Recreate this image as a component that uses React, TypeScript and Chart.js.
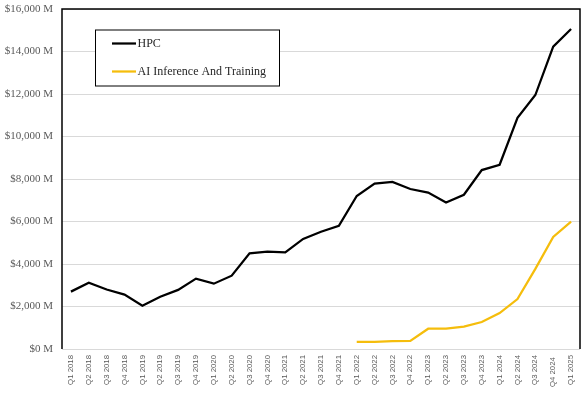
import React, { useEffect, useRef } from "react";
import { Chart, registerables } from "chart.js";

Chart.register(...registerables);

const categories = [
  "Q1 2018", "Q2 2018", "Q3 2018", "Q4 2018",
  "Q1 2019", "Q2 2019", "Q3 2019", "Q4 2019",
  "Q1 2020", "Q2 2020", "Q3 2020", "Q4 2020",
  "Q1 2021", "Q2 2021", "Q3 2021", "Q4 2021",
  "Q1 2022", "Q2 2022", "Q3 2022", "Q4 2022",
  "Q1 2023", "Q2 2023", "Q3 2023", "Q4 2023",
  "Q1 2024", "Q2 2024", "Q3 2024", "Q4 2024 ",
  "Q1 2025",
];

const hpcValues = [
  2700, 3120, 2800, 2560,
  2040, 2460, 2780, 3310,
  3075, 3450, 4500, 4580,
  4550, 5180, 5520, 5800,
  7200, 7780, 7860, 7530,
  7360, 6890, 7260, 8420,
  8670, 10880, 11950, 14230,
  15060,
];

const aiValues: (number | null)[] = [
  null, null, null, null,
  null, null, null, null,
  null, null, null, null,
  null, null, null, null,
  330, 335, 375, 378,
  955, 958, 1050, 1270,
  1690, 2350, 3770, 5270,
  5990,
];

const yTicks = [0, 2000, 4000, 6000, 8000, 10000, 12000, 14000, 16000];

const SERIF = "'Liberation Serif', 'DejaVu Serif', serif";
const SANS = "'Liberation Sans', Arial, sans-serif";

const frameAndLegend = {
  id: "frameAndLegend",
  afterDraw(chart: any) {
    const { ctx, chartArea } = chart;
    const { left, top, right, bottom } = chartArea;
    ctx.save();
    ctx.strokeStyle = "#000";
    ctx.lineWidth = 1.5;
    ctx.beginPath();
    ctx.moveTo(left, bottom);
    ctx.lineTo(left, top);
    ctx.lineTo(right, top);
    ctx.lineTo(right, bottom);
    ctx.stroke();

    // legend box
    const bx = 95, by = 29.5, bw = 184, bh = 56;
    ctx.fillStyle = "#fff";
    ctx.fillRect(bx, by, bw, bh);
    ctx.lineWidth = 1;
    ctx.strokeStyle = "#000";
    ctx.strokeRect(bx + 0.5, by + 0.5, bw, bh);
    const items = chart.data.datasets;
    const ys = [43.5, 71.5];
    ctx.font = `12px ${SERIF}`;
    ctx.textBaseline = "middle";
    items.forEach((ds: any, i: number) => {
      ctx.strokeStyle = ds.borderColor;
      ctx.lineWidth = 2.25;
      ctx.beginPath();
      ctx.moveTo(112, ys[i]);
      ctx.lineTo(136, ys[i]);
      ctx.stroke();
      ctx.fillStyle = "#262626";
      ctx.fillText(ds.label, 137.5, ys[i]);
    });
    ctx.restore();
  },
};

export default function App() {
  const ref = useRef<HTMLCanvasElement | null>(null);
  useEffect(() => {
    document.body.style.margin = "0";
    const chart = new Chart(ref.current!, {
      type: "line",
      data: {
        labels: categories,
        datasets: [
          {
            label: "HPC",
            data: hpcValues,
            borderColor: "#000000",
            borderWidth: 2.25,
            pointRadius: 0,
            tension: 0,
          },
          {
            label: "AI Inference And Training",
            data: aiValues,
            borderColor: "#F5BD0C",
            borderWidth: 2.25,
            pointRadius: 0,
            tension: 0,
          },
        ],
      },
      options: {
        animation: false,
        responsive: false,
        maintainAspectRatio: false,
        layout: { padding: { top: 0, right: 8, left: 0, bottom: 0 } },
        plugins: { legend: { display: false }, tooltip: { enabled: false } },
        scales: {
          x: {
            offset: true,
            grid: { display: false, drawTicks: false },
            border: { display: false },
            ticks: {
              autoSkip: false,
              maxRotation: 90,
              minRotation: 90,
              padding: 6,
              color: "#595959",
              font: { family: SANS, size: 7.8 },
            },
            afterFit(scale: any) {
              scale.height = 44;
            },
          },
          y: {
            min: 0,
            max: 16000,
            afterBuildTicks(scale: any) {
              scale.ticks = yTicks.map((v) => ({ value: v }));
            },
            grid: { color: "#D9D9D9", lineWidth: 1, drawTicks: false },
            border: { display: false },
            ticks: {
              padding: 9,
              color: "#595959",
              font: { family: SERIF, size: 11 },
              callback: (v: any) => `$${Number(v).toLocaleString("en-US")} M`,
            },
            afterFit(scale: any) {
              scale.width = 62;
              scale.paddingTop = 9;
              scale.paddingBottom = 0;
            },
          },
        },
      },
      plugins: [frameAndLegend],
    });
    return () => chart.destroy();
  }, []);
  return (
    <div style={{ width: 588, height: 393 }}>
      <canvas ref={ref} width={588} height={393} style={{ width: 588, height: 393, display: "block" }} />
    </div>
  );
}
